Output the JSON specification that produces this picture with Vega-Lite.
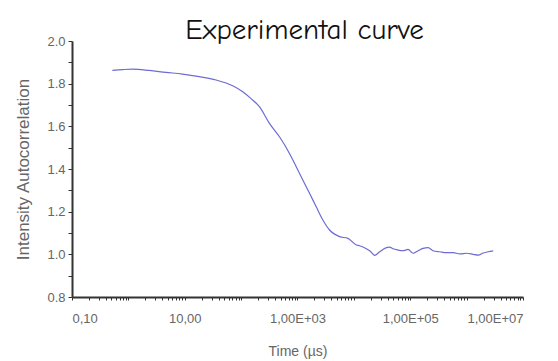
{
  "$schema": "https://vega.github.io/schema/vega-lite/v6.json",
  "autosize": "none",
  "width": 451,
  "height": 256,
  "padding": {"left": 72, "top": 41, "right": 35, "bottom": 64},
  "background": "white",
  "title": {
    "text": "Experimental curve",
    "font": "Comic Sans MS, Comic Neue, DejaVu Sans",
    "fontSize": 29,
    "fontWeight": "normal",
    "color": "#111",
    "anchor": "middle",
    "dx": 7,
    "offset": -10
  },
  "data": {
    "values": [
      {"t": 0.52, "g": 1.862},
      {"t": 0.8, "g": 1.866},
      {"t": 1.18, "g": 1.868},
      {"t": 2.34, "g": 1.862},
      {"t": 4.63, "g": 1.853},
      {"t": 9.14, "g": 1.845},
      {"t": 18.1, "g": 1.833},
      {"t": 35.9, "g": 1.817},
      {"t": 70.8, "g": 1.79},
      {"t": 106.7, "g": 1.762},
      {"t": 150, "g": 1.73},
      {"t": 211, "g": 1.692},
      {"t": 318, "g": 1.614},
      {"t": 479, "g": 1.551},
      {"t": 721, "g": 1.473},
      {"t": 948, "g": 1.411},
      {"t": 1242, "g": 1.348},
      {"t": 1634, "g": 1.286},
      {"t": 2148, "g": 1.223},
      {"t": 2818, "g": 1.161},
      {"t": 3707, "g": 1.114},
      {"t": 5585, "g": 1.083},
      {"t": 7834, "g": 1.075},
      {"t": 11070, "g": 1.044},
      {"t": 12650, "g": 1.04},
      {"t": 16630, "g": 1.026},
      {"t": 20000, "g": 1.012},
      {"t": 23390, "g": 0.995},
      {"t": 28700, "g": 1.012},
      {"t": 35230, "g": 1.028},
      {"t": 43250, "g": 1.034},
      {"t": 49430, "g": 1.026},
      {"t": 60670, "g": 1.02},
      {"t": 74470, "g": 1.017},
      {"t": 91410, "g": 1.023},
      {"t": 112200, "g": 1.005},
      {"t": 137700, "g": 1.017},
      {"t": 169000, "g": 1.028},
      {"t": 207200, "g": 1.031},
      {"t": 254300, "g": 1.017},
      {"t": 334300, "g": 1.012},
      {"t": 440500, "g": 1.008},
      {"t": 576800, "g": 1.008},
      {"t": 758600, "g": 1.002},
      {"t": 997700, "g": 1.005},
      {"t": 1306000, "g": 1.0},
      {"t": 1603000, "g": 0.996},
      {"t": 1968000, "g": 1.006},
      {"t": 2415000, "g": 1.012},
      {"t": 2965000, "g": 1.016}
    ]
  },
  "mark": {"type": "line", "color": "#6c6cd4", "strokeWidth": 1.2, "clip": true, "interpolate": "monotone"},
  "encoding": {
    "x": {
      "field": "t",
      "type": "quantitative",
      "scale": {"type": "log", "domain": [0.1, 10000000], "nice": false},
      "axis": {
        "title": "Time (µs)",
        "values": [0.1, 0.2, 0.3, 0.4, 0.5, 0.6, 0.7, 0.8, 0.9, 1, 2, 3, 4, 5, 6, 7, 8, 9, 10, 20, 30, 40, 50, 60, 70, 80, 90, 100, 200, 300, 400, 500, 600, 700, 800, 900, 1000, 2000, 3000, 4000, 5000, 6000, 7000, 8000, 9000, 10000, 20000, 30000, 40000, 50000, 60000, 70000, 80000, 90000, 100000, 200000, 300000, 400000, 500000, 600000, 700000, 800000, 900000, 1000000, 2000000, 3000000, 4000000, 5000000, 6000000, 7000000, 8000000, 9000000, 10000000],
        "labelExpr": "datum.value == 0.1 ? '0,10' : datum.value == 10 ? '10,00' : datum.value == 1000 ? '1,00E+03' : datum.value == 100000 ? '1,00E+05' : datum.value == 10000000 ? '1,00E+07' : ''",
        "labelOverlap": false,
        "labelFont": "Liberation Sans",
        "labelFontSize": 13,
        "labelColor": "#666",
        "labelPadding": 12,
        "tickSize": 3,
        "tickColor": "#333",
        "domainColor": "#333",
        "domainWidth": 2,
        "grid": false,
        "titleFont": "Liberation Sans",
        "titleFontSize": 14,
        "titleFontWeight": "normal",
        "titleColor": "#666",
        "titlePadding": 19
      }
    },
    "y": {
      "field": "g",
      "type": "quantitative",
      "scale": {"domain": [0.8, 2.0], "nice": false, "zero": false},
      "axis": {
        "title": "Intensity Autocorrelation",
        "values": [0.8, 0.9, 1.0, 1.1, 1.2, 1.3, 1.4, 1.5, 1.6, 1.7, 1.8, 1.9, 2.0],
        "labelExpr": "round(datum.value * 10) % 2 == 0 ? format(datum.value, '.1f') : ''",
        "labelFont": "Liberation Sans",
        "labelFontSize": 13,
        "labelColor": "#666",
        "labelPadding": 3,
        "tickSize": 4,
        "tickColor": "#333",
        "domainColor": "#333",
        "domainWidth": 2,
        "grid": false,
        "titleFont": "Liberation Sans",
        "titleFontSize": 17,
        "titleFontWeight": "normal",
        "titleColor": "#666",
        "titlePadding": 14
      }
    }
  },
  "config": {"view": {"stroke": null}}
}
